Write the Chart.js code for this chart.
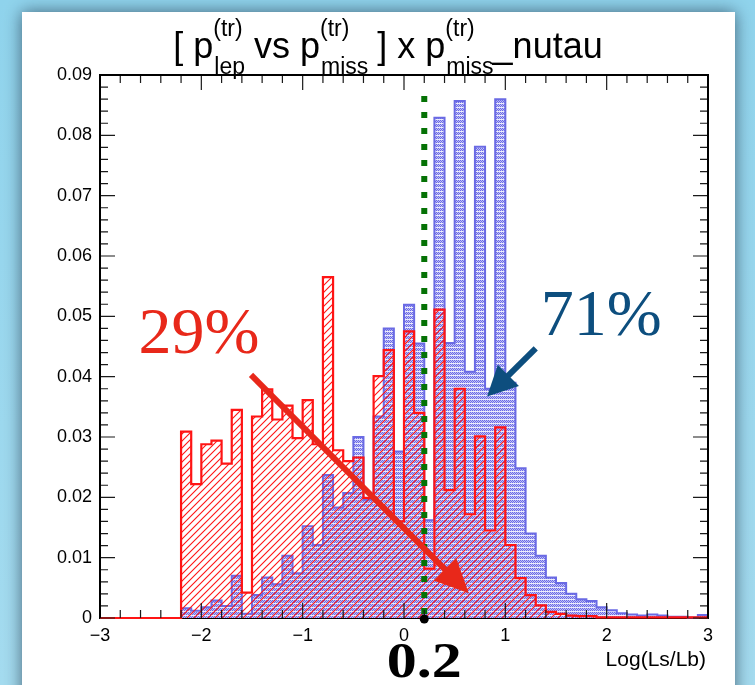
<!DOCTYPE html>
<html>
<head>
<meta charset="utf-8">
<script src="https://cdn.jsdelivr.net/npm/chart.js@4.4.0/dist/chart.umd.min.js"></script>
<style>
  html, body { margin: 0; padding: 0; background: #93d3ec; }
  #wrap { width: 755px; height: 685px; position: relative; }
  canvas { display: block; }
</style>
</head>
<body>
<div id="wrap"><canvas id="c" width="755" height="685"></canvas></div>
<script>
// Histogram binning of Log(Ls/Lb): 60 bins of width 0.1 from -3 to 3
const binStart = -3;
const binWidth = 0.1;

// nu_tau signal (blue, dotted fill)
const nutauSignal = [
  0, 0, 0, 0, 0, 0, 0, 0,
  0.0016, 0.0012, 0.0018, 0.0029, 0.0020, 0.0070, 0.0007, 0.0038, 0.0067, 0.0056,
  0.0103, 0.0074, 0.0152, 0.0121, 0.0237, 0.0183, 0.0207, 0.0300, 0.0196, 0.0334,
  0.0480, 0.0276, 0.0519, 0.0455, 0.0162, 0.0829, 0.0456, 0.0857, 0.0408, 0.0781,
  0.0380, 0.0860, 0.0390, 0.0248, 0.0140, 0.0103, 0.0067, 0.0058, 0.0040, 0.0031,
  0.0028, 0.0018, 0.0013, 0.0008, 0.0006, 0.0004, 0.0006, 0.0004, 0.0002, 0.0002,
  0.0001, 0.0005
];

// background (red, hatched fill)
const background = [
  0, 0, 0, 0, 0, 0, 0, 0,
  0.0309, 0.0222, 0.0288, 0.0294, 0.0256, 0.0345, 0.0042, 0.0334, 0.0379, 0.0329,
  0.0352, 0.0298, 0.0361, 0.0288, 0.0565, 0.0278, 0.0260, 0.0266, 0.0199, 0.0401,
  0.0444, 0.0160, 0.0475, 0.0340, 0.0082, 0.0511, 0.0212, 0.0380, 0.0172, 0.0301,
  0.0145, 0.0316, 0.0121, 0.0066, 0.0038, 0.0021, 0.0010, 0.0007, 0.0004, 0.0003,
  0.0003, 0.0001, 0.0001, 0.0001, 0.0001, 0.0001, 0.0001, 0.0001, 0.0001, 0.0001,
  0.0001, 0.0001
];

const xTickValues = [-3, -2, -1, 0, 1, 2, 3];
const yTickValues = [0, 0.01, 0.02, 0.03, 0.04, 0.05, 0.06, 0.07, 0.08, 0.09];

const cutValue = 0.2;
const signalShare = '71%';
const backgroundShare = '29%';

const SANS = '"Liberation Sans", Arial, Helvetica, sans-serif';
const SERIF = '"Liberation Serif", "Times New Roman", serif';

const canvas = document.getElementById('c');
const mainCtx = canvas.getContext('2d');

// step outline: each bin value holds from its low edge to the next edge
function stepPoints(values) {
  const pts = values.map((v, i) => ({ x: binStart + i * binWidth, y: v }));
  pts.push({ x: binStart + values.length * binWidth, y: values[values.length - 1] });
  return pts;
}

function dotPattern() {
  const t = document.createElement('canvas');
  t.width = 4; t.height = 4;
  const g = t.getContext('2d');
  const img = g.createImageData(4, 4);
  for (let y = 0; y < 4; y++) {
    for (let x = 0; x < 4; x++) {
      let col;
      if (y === 3) col = [236, 236, 252];
      else col = ((x + y) % 2 === 0) ? [106, 106, 230] : [194, 194, 246];
      const k = (y * 4 + x) * 4;
      img.data[k] = col[0]; img.data[k + 1] = col[1]; img.data[k + 2] = col[2]; img.data[k + 3] = 255;
    }
  }
  g.putImageData(img, 0, 0);
  return mainCtx.createPattern(t, 'repeat');
}

function hatchPattern() {
  const s = 7;
  const t = document.createElement('canvas');
  t.width = s; t.height = s;
  const g = t.getContext('2d');
  g.strokeStyle = 'rgb(255,20,20)';
  g.lineWidth = 1.1;
  g.beginPath();
  g.moveTo(-1, s + 1); g.lineTo(s + 1, -1);
  g.moveTo(-1, 1); g.lineTo(1, -1);
  g.moveTo(s - 1, s + 1); g.lineTo(s + 1, s - 1);
  g.stroke();
  return mainCtx.createPattern(t, 'repeat');
}

// page background with the white panel
const panelPlugin = {
  id: 'panel',
  beforeDraw(chart) {
    const ctx = chart.ctx;
    ctx.save();
    const grad = ctx.createLinearGradient(0, 0, 0, 685);
    grad.addColorStop(0, '#8fd3ec');
    grad.addColorStop(1, '#a4dbef');
    ctx.fillStyle = grad;
    ctx.fillRect(0, 0, 755, 685);
    ctx.shadowColor = 'rgba(30,50,70,0.7)';
    ctx.shadowBlur = 16;
    ctx.fillStyle = '#ffffff';
    ctx.fillRect(22, 12, 713, 700);
    ctx.restore();
  },
  // frame outline goes under the histograms
  beforeDatasetsDraw(chart) {
    const ctx = chart.ctx;
    const a = chart.chartArea;
    ctx.save();
    ctx.strokeStyle = '#000';
    ctx.lineWidth = 2;
    ctx.strokeRect(a.left, a.top, a.right - a.left, a.bottom - a.top);
    ctx.restore();
  }
};

function arrow(ctx, x0, y0, x1, y1, width, headLen, headWidth, color) {
  const ang = Math.atan2(y1 - y0, x1 - x0);
  const bx = x1 - headLen * Math.cos(ang);
  const by = y1 - headLen * Math.sin(ang);
  ctx.save();
  ctx.strokeStyle = color;
  ctx.fillStyle = color;
  ctx.lineWidth = width;
  ctx.lineCap = 'butt';
  ctx.beginPath();
  ctx.moveTo(x0, y0);
  ctx.lineTo(bx + 2 * Math.cos(ang), by + 2 * Math.sin(ang));
  ctx.stroke();
  const nx = -Math.sin(ang), ny = Math.cos(ang);
  ctx.beginPath();
  ctx.moveTo(x1, y1);
  ctx.lineTo(bx + nx * headWidth / 2, by + ny * headWidth / 2);
  ctx.lineTo(bx - nx * headWidth / 2, by - ny * headWidth / 2);
  ctx.closePath();
  ctx.fill();
  ctx.restore();
}

function drawTitle(ctx, cx) {
  const big = '36px ' + SANS;
  const small = '23px ' + SANS;
  const parts = [
    { t: '[ p' }, { sup: '(tr)', sub: 'lep' },
    { t: ' vs p' }, { sup: '(tr)', sub: 'miss' },
    { t: ' ] x p' }, { sup: '(tr)', sub: 'miss' },
    { t: '_nutau' }
  ];
  ctx.save();
  ctx.fillStyle = '#000';
  ctx.textBaseline = 'alphabetic';
  const widths = parts.map(p => {
    if (p.t) { ctx.font = big; return ctx.measureText(p.t).width; }
    ctx.font = small;
    return Math.max(ctx.measureText(p.sup).width, ctx.measureText(p.sub).width);
  });
  const total = widths.reduce((a, b) => a + b, 0);
  let x = cx - total / 2;
  parts.forEach((p, i) => {
    if (p.t) {
      ctx.font = big; ctx.fillText(p.t, x, 58);
    } else {
      ctx.font = small;
      ctx.fillText(p.sup, x, 36);
      ctx.fillText(p.sub, x + 1, 74);
    }
    x += widths[i];
  });
  ctx.restore();
}

const overlayPlugin = {
  id: 'overlay',
  afterDatasetsDraw(chart) {
    const ctx = chart.ctx;
    const xs = chart.scales.x, ys = chart.scales.y;
    const a = chart.chartArea;

    // cut line
    const cx = xs.getPixelForValue(cutValue);
    ctx.save();
    ctx.strokeStyle = '#057205';
    ctx.lineWidth = 6;
    ctx.setLineDash([6, 10]);
    ctx.beginPath();
    ctx.moveTo(cx, ys.getPixelForValue(0.0865));
    ctx.lineTo(cx, ys.getPixelForValue(0));
    ctx.stroke();
    ctx.restore();

    // inward ticks on all four sides
    ctx.save();
    ctx.strokeStyle = '#1a1a1a';
    ctx.lineWidth = 1.2;
    ctx.beginPath();
    for (let k = 0; k <= 45; k++) {
      const v = k * 0.002;
      const y = ys.getPixelForValue(v);
      const len = (k % 5 === 0) ? 15 : 8;
      ctx.moveTo(a.left, y); ctx.lineTo(a.left + len, y);
      ctx.moveTo(a.right, y); ctx.lineTo(a.right - len, y);
    }
    for (let k = 0; k <= 30; k++) {
      const v = -3 + k * 0.2;
      const x = xs.getPixelForValue(v);
      const len = (k % 5 === 0) ? 15 : 8;
      ctx.moveTo(x, a.bottom); ctx.lineTo(x, a.bottom - len);
      ctx.moveTo(x, a.top); ctx.lineTo(x, a.top + len);
    }
    ctx.stroke();
    // top and side frame edges stay above the fills
    ctx.strokeStyle = '#000';
    ctx.lineWidth = 2;
    ctx.beginPath();
    ctx.moveTo(a.left, a.bottom); ctx.lineTo(a.left, a.top);
    ctx.lineTo(a.right, a.top); ctx.lineTo(a.right, a.bottom);
    ctx.stroke();
    ctx.restore();

    // cut marker dot and value
    ctx.save();
    ctx.fillStyle = '#000';
    ctx.beginPath();
    ctx.arc(cx, ys.getPixelForValue(0) + 1, 4.5, 0, Math.PI * 2);
    ctx.fill();
    ctx.font = 'bold 50px ' + SERIF;
    ctx.textAlign = 'center';
    ctx.textBaseline = 'alphabetic';
    ctx.translate(cx, 677);
    ctx.scale(1.2, 1);
    ctx.fillText(String(cutValue), 0, 0);
    ctx.restore();

    // axis title
    ctx.save();
    ctx.fillStyle = '#000';
    ctx.font = '21px ' + SANS;
    ctx.textAlign = 'right';
    ctx.fillText('Log(Ls/Lb)', a.right - 2, 666);
    ctx.restore();

    // fraction labels and arrows
    ctx.save();
    ctx.font = '66px ' + SERIF;
    ctx.textAlign = 'left';
    ctx.fillStyle = '#e8281a';
    ctx.fillText(backgroundShare, xs.getPixelForValue(-2.62), ys.getPixelForValue(0.0439));
    ctx.fillStyle = '#0d4e7e';
    ctx.fillText(signalShare, xs.getPixelForValue(1.35), ys.getPixelForValue(0.0469));
    ctx.restore();

    arrow(ctx, xs.getPixelForValue(-1.51), ys.getPixelForValue(0.0403),
      xs.getPixelForValue(0.64), ys.getPixelForValue(0.0041), 6, 34, 32, '#e8281a');
    arrow(ctx, xs.getPixelForValue(1.30), ys.getPixelForValue(0.0447),
      xs.getPixelForValue(0.82), ys.getPixelForValue(0.0367), 6, 30, 30, '#0d4e7e');

    drawTitle(ctx, 388);
  }
};

new Chart(mainCtx, {
  type: 'line',
  data: {
    datasets: [
      {
        label: 'background',
        data: stepPoints(background),
        stepped: 'before',
        borderColor: '#ff1414',
        borderWidth: 2.2,
        backgroundColor: hatchPattern(),
        fill: 'origin',
        pointRadius: 0,
        clip: 4,
        order: 0
      },
      {
        label: 'nutau',
        data: stepPoints(nutauSignal),
        stepped: 'before',
        borderColor: '#6a6ae4',
        borderWidth: 2,
        backgroundColor: dotPattern(),
        fill: 'origin',
        pointRadius: 0,
        clip: 4,
        order: 1
      }
    ]
  },
  options: {
    responsive: false,
    animation: false,
    events: [],
    layout: { padding: { left: 0, right: 47, top: 75, bottom: 0 } },
    plugins: { legend: { display: false }, tooltip: { enabled: false }, title: { display: false } },
    scales: {
      x: {
        type: 'linear',
        min: -3, max: 3,
        afterFit(s) { s.height = 67; },
        afterBuildTicks(s) { s.ticks = xTickValues.map(v => ({ value: v })); },
        grid: { display: false, drawTicks: false, tickLength: 0 },
        border: { display: false },
        ticks: {
          padding: 7,
          color: '#000',
          maxRotation: 0,
          autoSkip: false,
          font: { family: SANS, size: 18 },
          callback: v => (v < 0 ? '\u2212' : '') + Math.abs(v)
        }
      },
      y: {
        type: 'linear',
        min: 0, max: 0.09,
        afterFit(s) { s.width = 100; },
        afterBuildTicks(s) { s.ticks = yTickValues.map(v => ({ value: v })); },
        grid: { display: false, drawTicks: false, tickLength: 0 },
        border: { display: false },
        ticks: {
          padding: 8,
          color: '#000',
          autoSkip: false,
          font: { family: SANS, size: 18 },
          callback: v => (v === 0 ? '0' : v.toFixed(2))
        }
      }
    }
  },
  plugins: [panelPlugin, overlayPlugin]
});
</script>
</body>
</html>
